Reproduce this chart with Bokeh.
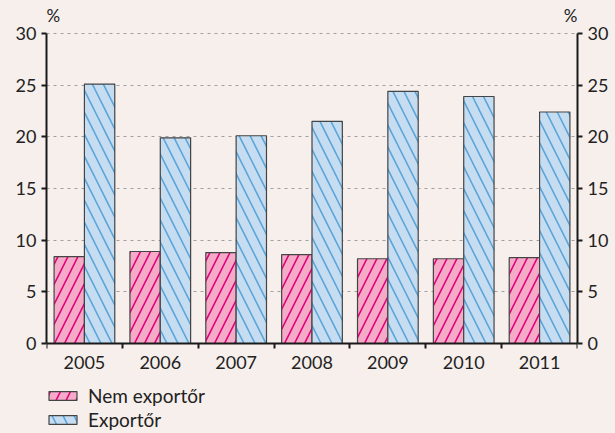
from bokeh.plotting import figure
from bokeh.models import (LinearAxis, FixedTicker, Legend, LegendItem, Label,
                          ColumnDataSource, Range1d, Grid)
from bokeh.embed import file_html
from bokeh.resources import INLINE

years = ["2005", "2006", "2007", "2008", "2009", "2010", "2011"]
nem_exportor = [8.4, 8.9, 8.8, 8.6, 8.2, 8.2, 8.3]
exportor = [25.1, 19.9, 20.1, 21.5, 24.4, 23.9, 22.4]
y_ticks = [0, 5, 10, 15, 20, 25, 30]

BG = "#F6EFEC"
FONT = "Lato"
FS = "18px"

centers = [i + 0.5 for i in range(len(years))]
src = ColumnDataSource(dict(
    x1=[c - 0.2 for c in centers], x2=[c + 0.2 for c in centers],
    nem=nem_exportor, exp=exportor))

# the frame is extended below 0 and above 30 so the legend and % marks fit inside it
p = figure(width=615, height=433, x_range=Range1d(0, len(years)),
           y_range=Range1d(-8.71, 33.19),
           output_backend="svg", toolbar_location=None,
           background_fill_color=BG, border_fill_color=BG,
           min_border_left=46, min_border_right=38, min_border_top=0,
           min_border_bottom=0, x_axis_location=None, y_axis_location=None)
p.outline_line_color = None
p.xgrid.visible = False
p.ygrid.visible = False

r1 = p.vbar(x="x1", top="nem", width=0.4, source=src, fill_color="#F5AAC8",
            line_color="#444444", line_width=1.2, hatch_pattern="/",
            hatch_color="#E2007A", hatch_weight=1.6, hatch_scale=20)
r2 = p.vbar(x="x2", top="exp", width=0.4, source=src, fill_color="#C6DDF1",
            line_color="#444444", line_width=1.2, hatch_pattern="\\",
            hatch_color="#5BA4DA", hatch_weight=1.6, hatch_scale=22)

def yaxis():
    ax = LinearAxis(ticker=FixedTicker(ticks=y_ticks, minor_ticks=[]), bounds=(0, 30))
    ax.axis_line_width = 2
    ax.axis_line_color = "#1a1a1a"
    ax.major_tick_line_width = 2
    ax.major_tick_line_color = "#1a1a1a"
    ax.major_tick_in = 0
    ax.major_tick_out = 5
    ax.major_label_text_font = FONT
    ax.major_label_text_font_size = FS
    ax.major_label_text_color = "#222222"
    ax.major_label_standoff = 5
    return ax

p.add_layout(yaxis(), "left")
p.add_layout(yaxis(), "right")

grid = Grid(dimension=1, ticker=FixedTicker(ticks=y_ticks[1:]), grid_line_color="#a0a0a0",
            grid_line_dash="3 4", grid_line_width=1)
p.add_layout(grid)

xax = LinearAxis(ticker=FixedTicker(ticks=centers, minor_ticks=list(range(len(years) + 1))),
                 major_label_overrides={c: y for c, y in zip(centers, years)},
                 fixed_location=0)
xax.axis_line_width = 2
xax.axis_line_color = "#1a1a1a"
xax.major_tick_in = 0
xax.major_tick_out = 0
xax.minor_tick_in = 0
xax.minor_tick_out = 5
xax.minor_tick_line_width = 2
xax.minor_tick_line_color = "#1a1a1a"
xax.major_label_text_font = FONT
xax.major_label_text_font_size = FS
xax.major_label_text_color = "#222222"
xax.major_label_standoff = 8
p.add_layout(xax, "below")

p.add_layout(Label(x=0, y=30, text="%", x_offset=0, y_offset=7, text_font=FONT,
                   text_font_size="17px", text_color="#222222"))
p.add_layout(Label(x=len(years), y=30, text="%", x_offset=0, y_offset=7, text_font=FONT,
                   text_align="right", text_font_size="17px", text_color="#222222"))

legend = Legend(items=[LegendItem(label="Nem exportőr", renderers=[r1]),
                       LegendItem(label="Exportőr", renderers=[r2])],
                orientation="vertical", location=(-1, 2),
                glyph_width=35, glyph_height=11, label_height=14, spacing=1,
                label_text_font=FONT, label_text_font_size="19px",
                label_text_color="#222222", label_standoff=8,
                background_fill_alpha=0, border_line_color=None,
                padding=0, margin=0)
p.add_layout(legend)

html = file_html(p, INLINE)
html = html.replace("<body>", '<body style="background:%s">' % BG)
open("out.html", "w").write(html)
